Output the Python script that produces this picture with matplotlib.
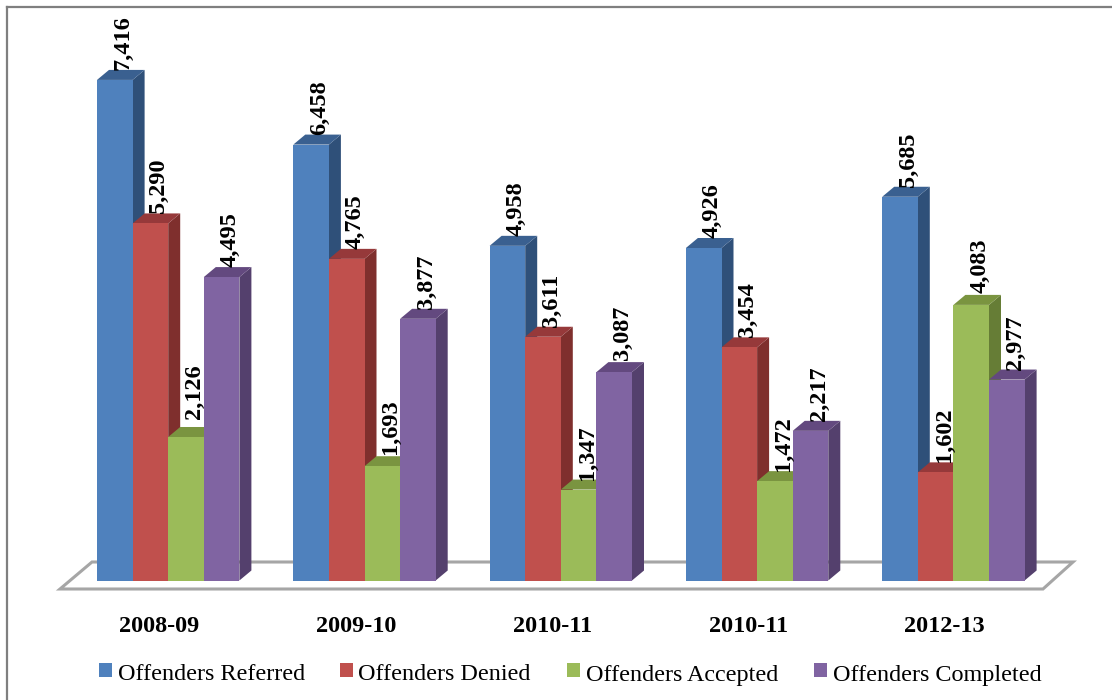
import matplotlib
matplotlib.use("Agg")
import matplotlib.pyplot as plt
from matplotlib.patches import Polygon, Rectangle

years = ["2008-09", "2009-10", "2010-11", "2010-11", "2012-13"]
series_names = ["Offenders Referred", "Offenders Denied", "Offenders Accepted", "Offenders Completed"]
referred = [7416, 6458, 4958, 4926, 5685]
denied = [5290, 4765, 3611, 3454, 1602]
accepted = [2126, 1693, 1347, 1472, 4083]
completed = [4495, 3877, 3087, 2217, 2977]
all_series = [referred, denied, accepted, completed]

front = ["#4f81bd", "#c0504d", "#9bbb59", "#8064a2"]
side = ["#2f5079", "#7f2f2d", "#667d36", "#54406d"]
top = ["#3a6090", "#96393a", "#7a9440", "#63497f"]

plt.rcParams['font.family'] = ['Liberation Serif', 'DejaVu Serif']

# pixel layout of the reference
W, H = 1112, 700
x0 = 97.0
pitch = 196.3
base_y = 580.5
px_per_val = 0.0675
bar_w = 35.6 / pitch
dep_x = 12.0 / pitch
dep_y = 10.0 / px_per_val

fig = plt.figure(figsize=(W / 100, H / 100), dpi=100, facecolor="white")
ax = fig.add_axes([0, 0, 1, 1])
ax.set_xlim(-x0 / pitch, (W - x0) / pitch)
ax.set_ylim((base_y - H) / px_per_val, base_y / px_per_val)
ax.axis("off")

# px -> axes fraction, for frame, floor, legend
def fx(p):
    return p / W
def fy(p):
    return 1 - p / H

# frame, only left and top show
ax.plot([fx(7), fx(7)], [fy(700), fy(7)], color="#7f7f7f", lw=1.6, transform=ax.transAxes, clip_on=False)
ax.plot([fx(7), fx(1112)], [fy(7), fy(7)], color="#7f7f7f", lw=1.6, transform=ax.transAxes, clip_on=False)

# floor
floor = [(60, 589), (92, 562), (1073, 562), (1043, 589)]
ax.add_patch(Polygon([(fx(a), fy(b)) for a, b in floor], closed=True, facecolor="white",
                     edgecolor="#a6a6a6", lw=2.2, transform=ax.transAxes, zorder=1))

z = 2
for g in range(len(years)):
    for i, vals in enumerate(all_series):
        v = vals[g]
        l = g + i * bar_w
        r = l + bar_w
        ax.add_patch(Polygon([(r, 0), (r + dep_x, dep_y), (r + dep_x, v + dep_y), (r, v)],
                             closed=True, facecolor=side[i], edgecolor="none", zorder=z))
        ax.add_patch(Polygon([(l, v), (r, v), (r + dep_x, v + dep_y), (l + dep_x, v + dep_y)],
                             closed=True, facecolor=top[i], edgecolor="none", zorder=z))
        ax.add_patch(Rectangle((l, 0), bar_w, v, facecolor=front[i], edgecolor="none", zorder=z))
        z += 1

# extra gap in px above a bar, 2,126 sits higher than the rest
label_gap = {(0, 2): 8, (4, 2): 2, (1, 2): 2, (2, 3): 2}

# value labels go over the bars
for g in range(len(years)):
    for i, vals in enumerate(all_series):
        v = vals[g]
        c = g + i * bar_w + bar_w / 2
        gap = label_gap.get((g, i), 0) / px_per_val
        ax.text(c + 8.5 / pitch, v + dep_y + gap, format(v, ","), rotation=90, ha="center", va="bottom",
                fontsize=17.5, fontweight="bold", color="black", zorder=100)
    ax.text(fx(x0 + g * pitch + 62.5), fy(627), years[g], transform=ax.transAxes, ha="center",
            va="center", fontsize=17.5, fontweight="bold", color="black")

# legend
sq_x = [99, 340, 567, 814]
txt_x = [118, 358, 586, 833]
for i, name in enumerate(series_names):
    ax.add_patch(Rectangle((fx(sq_x[i]), fy(677)), 13 / W, 14 / H, facecolor=front[i],
                           edgecolor="none", transform=ax.transAxes))
    ax.text(fx(txt_x[i]), fy(675), name, transform=ax.transAxes, ha="left", va="center",
            fontsize=17.4, color="black")

fig.savefig("out.png", dpi=100)
